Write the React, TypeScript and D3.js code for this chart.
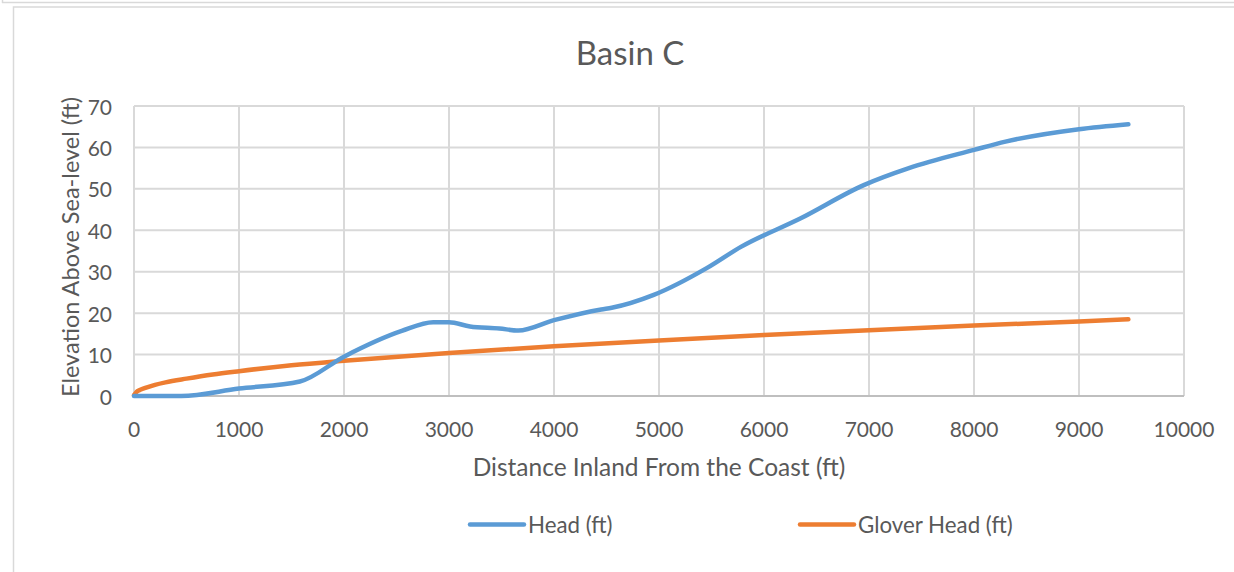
import React from "react";
import * as d3 from "d3";

const headX = [0, 450, 1000, 1580, 2000, 2550, 2850, 3000, 3200, 3480, 3660, 4000, 4450, 4550, 4950, 5450, 5780, 6350, 6950, 7380, 8000, 8300, 9000, 9470];
const headY = [0, 0, 1.8, 3.5, 9.5, 15.7, 17.8, 17.8, 16.8, 16.3, 15.8, 18.3, 20.9, 21.3, 24.4, 30.8, 36, 42.9, 50.9, 55, 59.4, 61.4, 64.4, 65.6];

const gloverX = [0, 25, 50, 100, 200, 300, 500, 750, 1000, 1500, 2000, 3000, 4000, 5000, 6000, 7000, 8000, 9000, 9470];
const gloverY = [0.2, 1.0, 1.4, 1.9, 2.7, 3.3, 4.2, 5.2, 6.0, 7.4, 8.5, 10.4, 12.0, 13.4, 14.7, 15.9, 17.0, 18.0, 18.5];

const xTicks = [0, 1000, 2000, 3000, 4000, 5000, 6000, 7000, 8000, 9000, 10000];
const yTicks = [0, 10, 20, 30, 40, 50, 60, 70];

const seriesNames = ["Head (ft)", "Glover Head (ft)"];
const seriesColors = ["#5b9bd5", "#ed7d31"];

const W = 1234;
const H = 572;
const FONT = "Lato, 'Open Sans', sans-serif";
const TEXT = "#595959";

export default function App() {
  const x = d3.scaleLinear().domain([0, 10000]).range([134, 1184]);
  const y = d3.scaleLinear().domain([0, 70]).range([396, 106]);

  const line = d3
    .line<[number, number]>()
    .x((d) => x(d[0]))
    .y((d) => y(d[1]))
    .curve(d3.curveMonotoneX);

  const headPts: [number, number][] = headX.map((v, i) => [v, headY[i]]);
  const gloverPts: [number, number][] = gloverX.map((v, i) => [v, gloverY[i]]);

  const legendItems = [
    { name: seriesNames[0], color: seriesColors[0], x1: 470, x2: 524 },
    { name: seriesNames[1], color: seriesColors[1], x1: 800, x2: 854 },
  ];

  return (
    <svg
      width={W}
      height={H}
      style={{ position: "absolute", left: 0, top: 0, background: "#fff" }}
      fontFamily={FONT}
    >
      <rect x={0} y={0} width={W} height={H} fill="#fff" />
      {/* outer frames */}
      <line x1={2} x2={W} y1={2.5} y2={2.5} stroke="#d9d9d9" strokeWidth={1.5} />
      <line x1={2.5} x2={2.5} y1={0} y2={3} stroke="#d9d9d9" strokeWidth={1.5} />
      <rect x={13.5} y={7} width={W + 10} height={H + 10} fill="none" stroke="#d9d9d9" strokeWidth={1.5} />

      {/* title */}
      <text x={630} y={52} textAnchor="middle" dominantBaseline="central" fontSize={33} fill={TEXT}>
        Basin C
      </text>

      {/* gridlines */}
      {yTicks.map((t) => (
        <line key={"gy" + t} x1={x(0)} x2={x(10000)} y1={y(t)} y2={y(t)} stroke="#d9d9d9" strokeWidth={2} />
      ))}
      {xTicks.map((t) => (
        <line key={"gx" + t} x1={x(t)} x2={x(t)} y1={y(0)} y2={y(70)} stroke="#d9d9d9" strokeWidth={2} />
      ))}
      <line x1={x(0)} x2={x(10000)} y1={y(0)} y2={y(0)} stroke="#bfbfbf" strokeWidth={2} />

      {/* tick labels */}
      {yTicks.map((t) => (
        <text key={"ly" + t} x={112} y={y(t)} textAnchor="end" dominantBaseline="central" fontSize={21} fill={TEXT}>
          {t}
        </text>
      ))}
      {xTicks.map((t) => (
        <text key={"lx" + t} x={x(t)} y={428} textAnchor="middle" dominantBaseline="central" fontSize={21} fill={TEXT}>
          {t}
        </text>
      ))}

      {/* axis titles */}
      <text x={659} y={466} textAnchor="middle" dominantBaseline="central" fontSize={24.5} fill={TEXT}>
        Distance Inland From the Coast (ft)
      </text>
      <text
        transform={`translate(70,247) rotate(-90)`}
        textAnchor="middle"
        dominantBaseline="central"
        fontSize={23.5}
        fill={TEXT}
      >
        Elevation Above Sea-level (ft)
      </text>

      {/* series */}
      <path d={line(gloverPts) || ""} fill="none" stroke={seriesColors[1]} strokeWidth={4.5} strokeLinecap="round" strokeLinejoin="round" />
      <path d={line(headPts) || ""} fill="none" stroke={seriesColors[0]} strokeWidth={4.5} strokeLinecap="round" strokeLinejoin="round" />

      {/* legend */}
      {legendItems.map((it) => (
        <g key={it.name}>
          <line x1={it.x1} x2={it.x2} y1={524.5} y2={524.5} stroke={it.color} strokeWidth={4.5} strokeLinecap="round" />
          <text x={it.x2 + 4} y={524.5} dominantBaseline="central" fontSize={22.3} fill={TEXT}>
            {it.name}
          </text>
        </g>
      ))}
    </svg>
  );
}
